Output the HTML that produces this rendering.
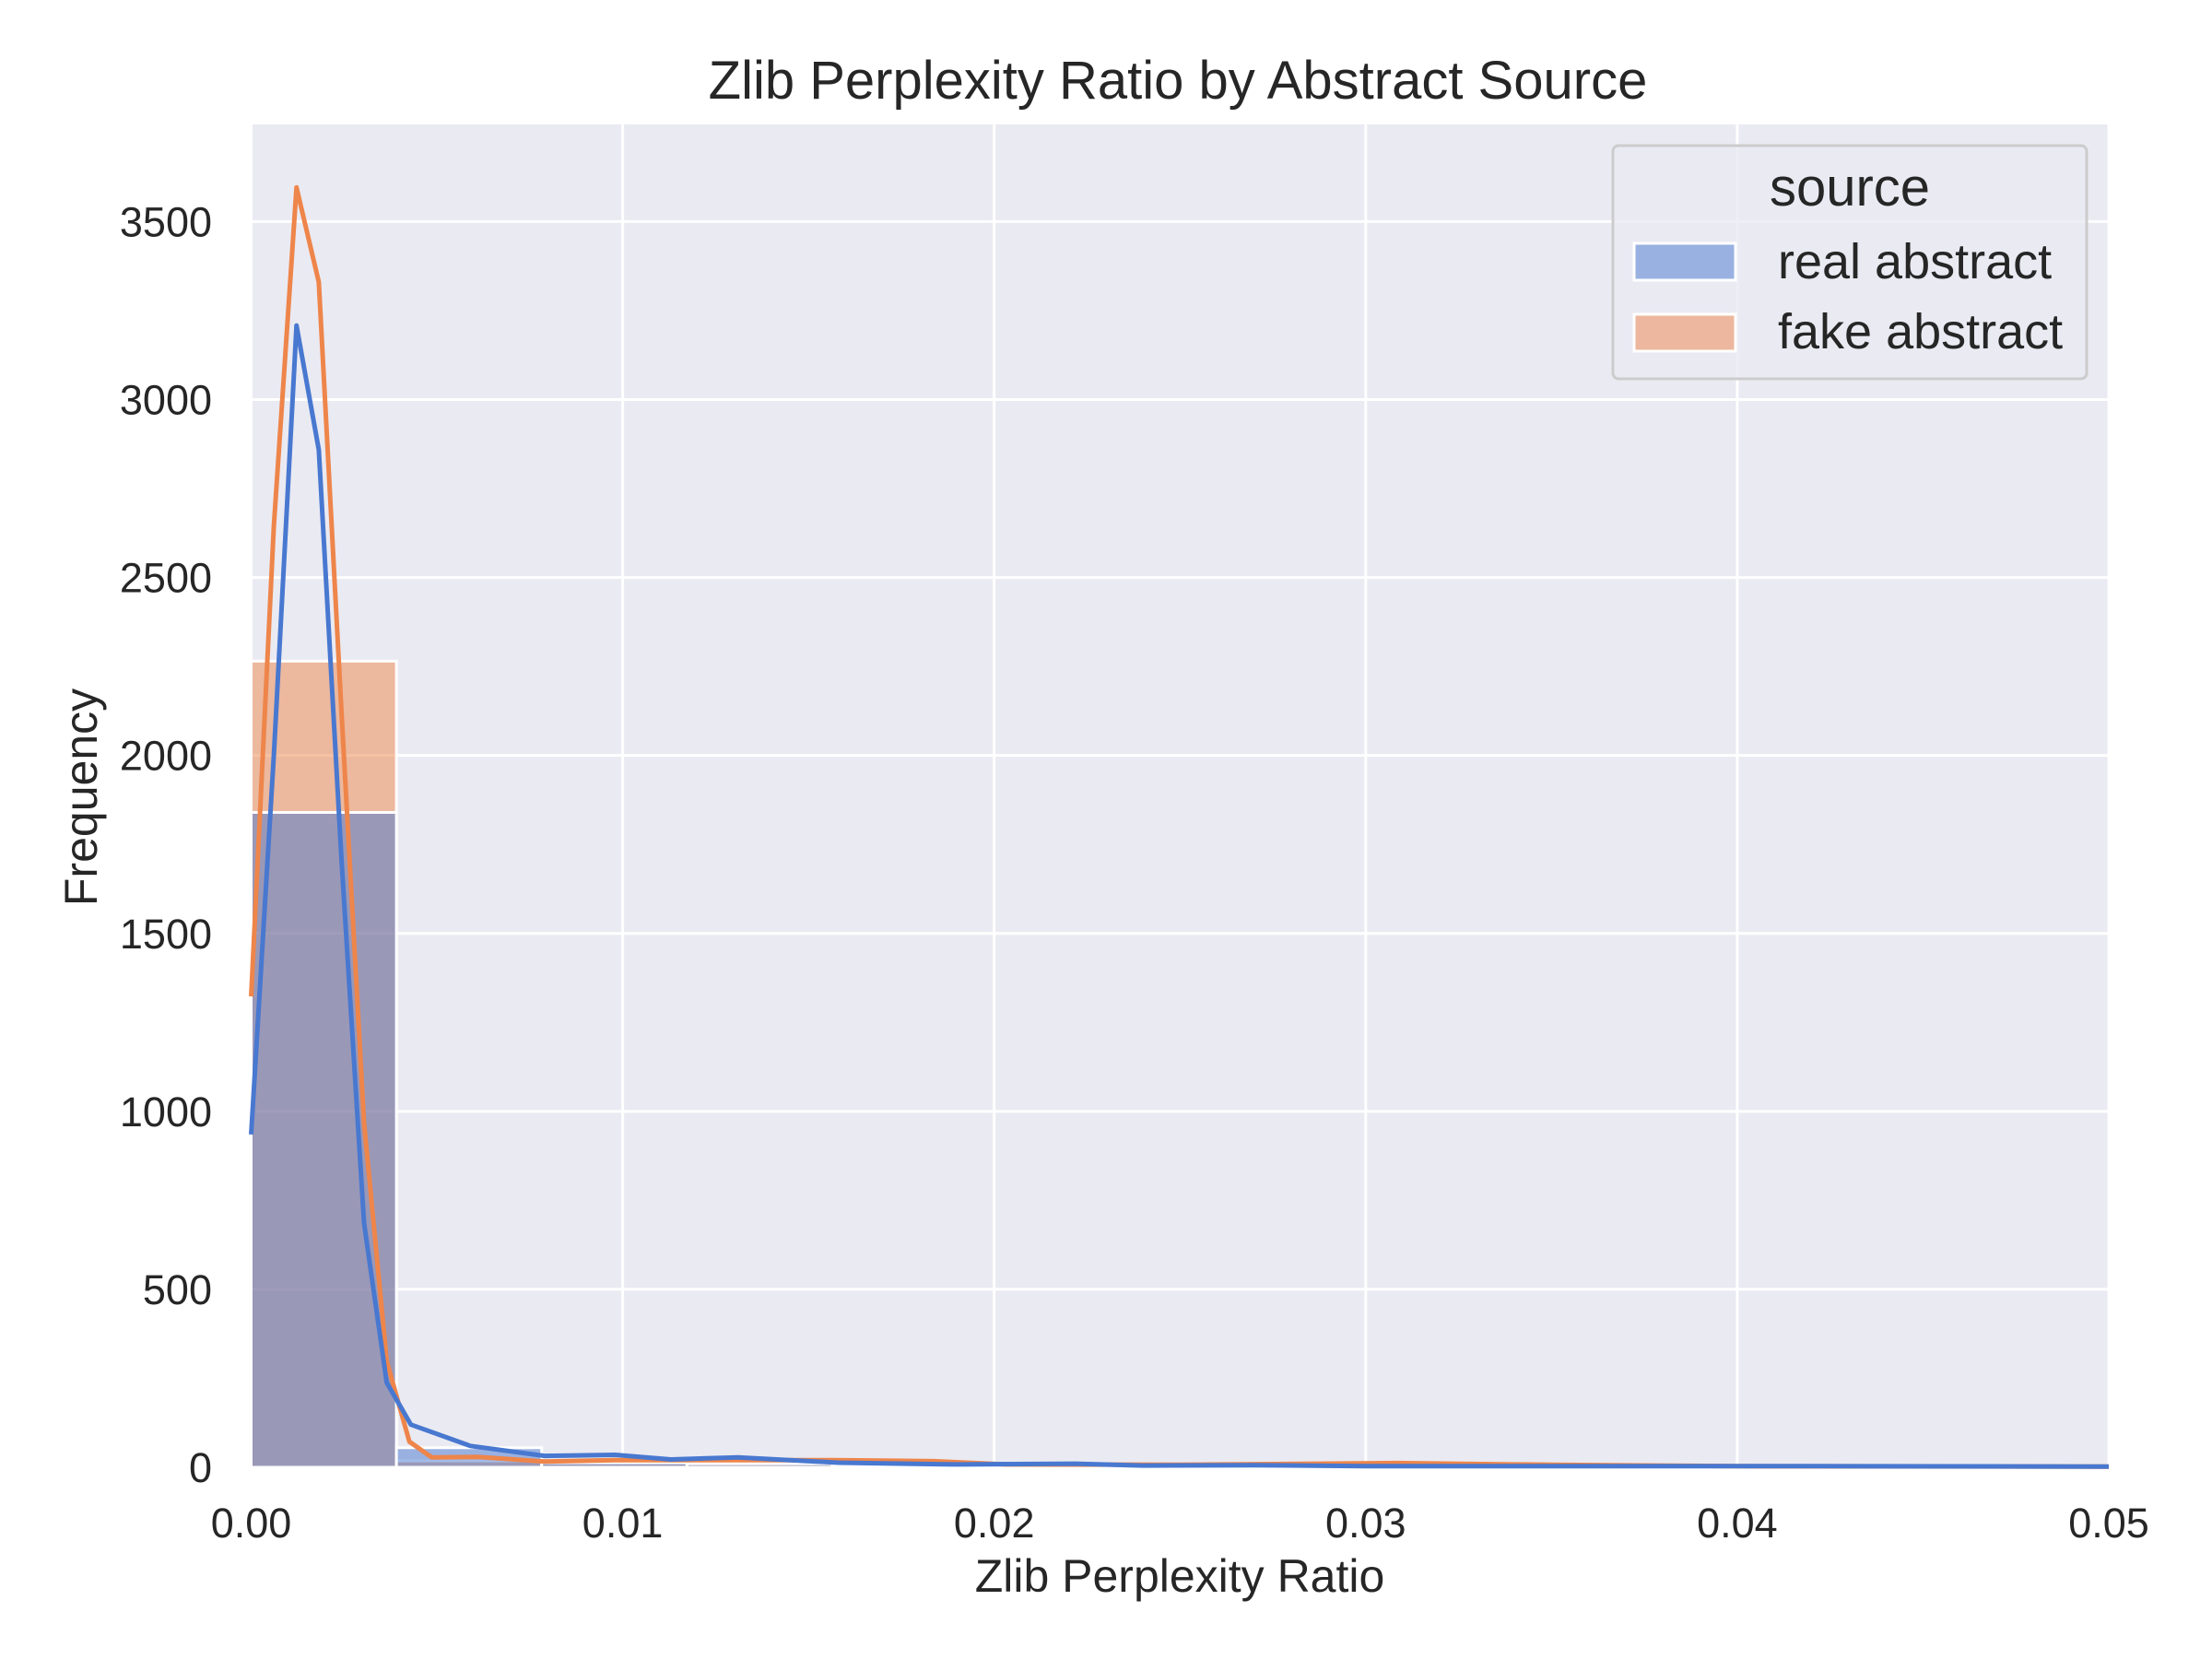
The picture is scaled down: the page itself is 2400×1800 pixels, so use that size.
<!DOCTYPE html>
<html><head><meta charset="utf-8"><style>
html,body{margin:0;padding:0;background:#fff;}
svg{display:block;font-family:"Liberation Sans",Arial,sans-serif;}
</style></head><body>
<svg id="chart" width="2400" height="1800" viewBox="0 0 2400 1800">
<rect x="0" y="0" width="2400" height="1800" fill="#ffffff"/>
<text x="1278" y="107" font-size="58" text-anchor="middle" fill="#262626">Zlib Perplexity Ratio by Abstract Source</text>
<rect x="272.5" y="135" width="2015.5" height="1457" fill="#eaeaf2"/>
<g id="grid"></g>
<g id="bars"></g>
<g id="lines"></g>
<g id="ticks"></g>
<text x="1280" y="1727" font-size="50" text-anchor="middle" fill="#262626">Zlib Perplexity Ratio</text>
<text x="0" y="0" font-size="50" text-anchor="middle" fill="#262626" transform="translate(105,865) rotate(-90)">Frequency</text>
<g>
<rect x="1750" y="158" width="514" height="253" rx="6" fill="#eaeaf2" fill-opacity="0.8" stroke="#cccccc" stroke-width="3"/>
<text x="2007" y="223" font-size="58" text-anchor="middle" fill="#262626">source</text>
<rect x="1773" y="264" width="110" height="40" fill="rgb(153,177,225)" stroke="#fff" stroke-width="3"/>
<text x="1929" y="302" font-size="54" fill="#262626">real abstract</text>
<rect x="1773" y="341" width="110" height="40" fill="rgb(236,183,158)" stroke="#fff" stroke-width="3"/>
<text x="1929" y="378" font-size="54" fill="#262626">fake abstract</text>
</g>
</svg>
<script>
const xTicks = [0, 0.01, 0.02, 0.03, 0.04, 0.05];
const xTickLabels = ["0.00", "0.01", "0.02", "0.03", "0.04", "0.05"];
const yTicks = [0, 500, 1000, 1500, 2000, 2500, 3000, 3500];
const yTickLabels = ["0", "500", "1000", "1500", "2000", "2500", "3000", "3500"];
const binWidth = 0.00391;
const realCounts = [1840, 55, 13, 10, 4, 3, 2, 1, 1, 1, 1, 1];
const fakeCounts = [2265, 18, 12, 12, 8, 6, 4, 3, 2, 2, 1, 1];
const realKdeX = [0, 0.00061, 0.00122, 0.00182, 0.00243, 0.00304, 0.00365, 0.0043, 0.0059, 0.0079, 0.0098, 0.0113, 0.0131, 0.0158, 0.019, 0.0222, 0.024, 0.027, 0.030, 0.035, 0.042, 0.05];
const realKdeY = [935, 2000, 3208, 2859, 1709, 686, 238, 120, 60, 32, 35, 22, 28, 13, 8, 10, 5, 6, 3, 3, 3, 2];
const fakeKdeX = [0, 0.00061, 0.00122, 0.00182, 0.00243, 0.00304, 0.00365, 0.00426, 0.00486, 0.0061, 0.0079, 0.0098, 0.0131, 0.0157, 0.0184, 0.0203, 0.025, 0.0309, 0.035, 0.04, 0.05];
const fakeKdeY = [1323, 2644, 3596, 3330, 2123, 968, 298, 72, 28, 29, 16, 20, 20, 20, 17, 8, 7, 12, 7, 3, 2];

const NS = "http://www.w3.org/2000/svg";
const X0 = 272.5, X1 = 2288, Y0 = 1592, Y1 = 135;
const xMax = 0.05, yMax = 3773;
function sx(v){ return X0 + (v / xMax) * (X1 - X0); }
function sy(v){ return Y0 - (v / yMax) * (Y0 - Y1); }
function mk(tag, attrs, parent){ const e = document.createElementNS(NS, tag); for (const k in attrs) e.setAttribute(k, attrs[k]); parent.appendChild(e); return e; }

const grid = document.getElementById('grid');
xTicks.forEach((t, i) => {
  const l = mk('line', {x1: sx(t), x2: sx(t), y1: Y1, y2: Y0, stroke: '#ffffff', 'stroke-width': 3}, grid);
  
  
});
yTicks.forEach((t, i) => {
  const l = mk('line', {x1: X0, x2: X1, y1: sy(t), y2: sy(t), stroke: '#ffffff', 'stroke-width': 3}, grid);
  
  
});

const bars = document.getElementById('bars');
fakeCounts.forEach((c, i) => {
  const x = sx(i * binWidth), w = sx((i + 1) * binWidth) - x;
  const r = mk('rect', {x: x, y: sy(c), width: w, height: Y0 - sy(c), fill: 'rgba(238,133,74,0.5)', stroke: '#ffffff', 'stroke-width': 3}, bars);
  
  
});
realCounts.forEach((c, i) => {
  const x = sx(i * binWidth), w = sx((i + 1) * binWidth) - x;
  const r = mk('rect', {x: x, y: sy(c), width: w, height: Y0 - sy(c), fill: 'rgba(72,120,208,0.5)', stroke: '#ffffff', 'stroke-width': 3}, bars);
  
  
});

const lines = document.getElementById('lines');
function pts(xs, ys){ return xs.map((x, i) => sx(x).toFixed(1) + ',' + sy(ys[i]).toFixed(1)).join(' '); }
const fl = mk('polyline', {points: pts(fakeKdeX, fakeKdeY), fill: 'none', stroke: '#ee854a', 'stroke-width': 5, 'stroke-linejoin': 'round'}, lines);


const rl = mk('polyline', {points: pts(realKdeX, realKdeY), fill: 'none', stroke: '#4878d0', 'stroke-width': 5, 'stroke-linejoin': 'round'}, lines);



const ticks = document.getElementById('ticks');
xTicks.forEach((t, i) => {
  const tx = mk('text', {x: sx(t), y: 1668, 'font-size': 45, 'text-anchor': 'middle', fill: '#262626'}, ticks);
  tx.textContent = xTickLabels[i];
  
  
});
yTicks.forEach((t, i) => {
  const tx = mk('text', {x: 230, y: sy(t) + 16, 'font-size': 45, 'text-anchor': 'end', fill: '#262626'}, ticks);
  tx.textContent = yTickLabels[i];
  
  
});
</script>
</body></html>
